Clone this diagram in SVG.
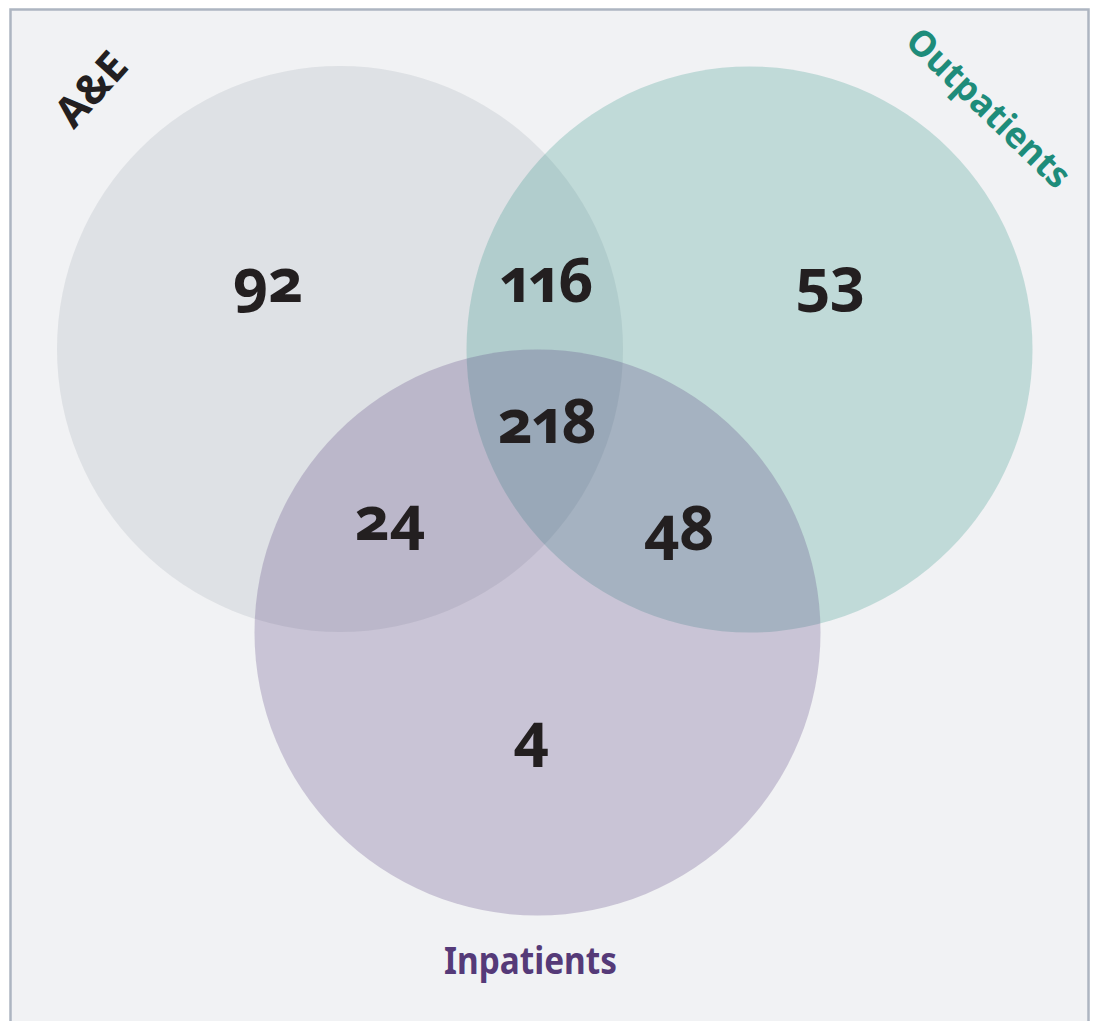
<svg xmlns="http://www.w3.org/2000/svg" width="1095" height="1021" viewBox="0 0 1095 1021">
<style>
.num{font-family:"Noto Sans","Open Sans",sans-serif;font-weight:700;font-size:61px;fill:#231f20;text-anchor:middle;font-variant-numeric:oldstyle-nums proportional-nums;font-feature-settings:"onum" 1,"pnum" 1}
.lbl{font-family:"Noto Sans","Open Sans",sans-serif;font-weight:700;text-anchor:middle}
</style>
<rect width="1095" height="1021" fill="#ffffff"/>
<rect x="10.5" y="9.5" width="1078" height="1030" fill="#f1f2f4" stroke="#adb5c1" stroke-width="2.5"/>
<g id="circle-ae"><circle cx="340" cy="349" r="283" fill="#8c96a0" fill-opacity="0.18"/></g>
<g id="circle-outpatients"><circle cx="749.5" cy="349.5" r="283" fill="#1e8c7d" fill-opacity="0.23"/></g>
<g id="circle-inpatients"><circle cx="537.5" cy="632.5" r="283" fill="#553a7a" fill-opacity="0.25"/></g>
<g id="connectors"></g>
<g id="counts">
<text class="num" x="268" y="302">92</text>
<text class="num" x="547" y="302">116</text>
<text class="num" x="830" y="302">53</text>
<text class="num" x="547" y="443">218</text>
<text class="num" x="390" y="540">24</text>
<text class="num" x="679" y="550">48</text>
<text class="num" x="531" y="757">4</text>
</g>
<g id="label-ae"><text class="lbl" x="0" y="0" font-size="42" fill="#231f20" transform="translate(102 99) rotate(-48)">A&amp;E</text></g>
<g id="label-outpatients"><text class="lbl" x="0" y="0" font-size="36" fill="#1e8c7a" textLength="212" lengthAdjust="spacingAndGlyphs" transform="translate(980 117) rotate(44)">Outpatients</text></g>
<g id="label-inpatients"><text class="lbl" x="530.5" y="974" font-size="37" fill="#553a78" textLength="173" lengthAdjust="spacingAndGlyphs">Inpatients</text></g>
</svg>
